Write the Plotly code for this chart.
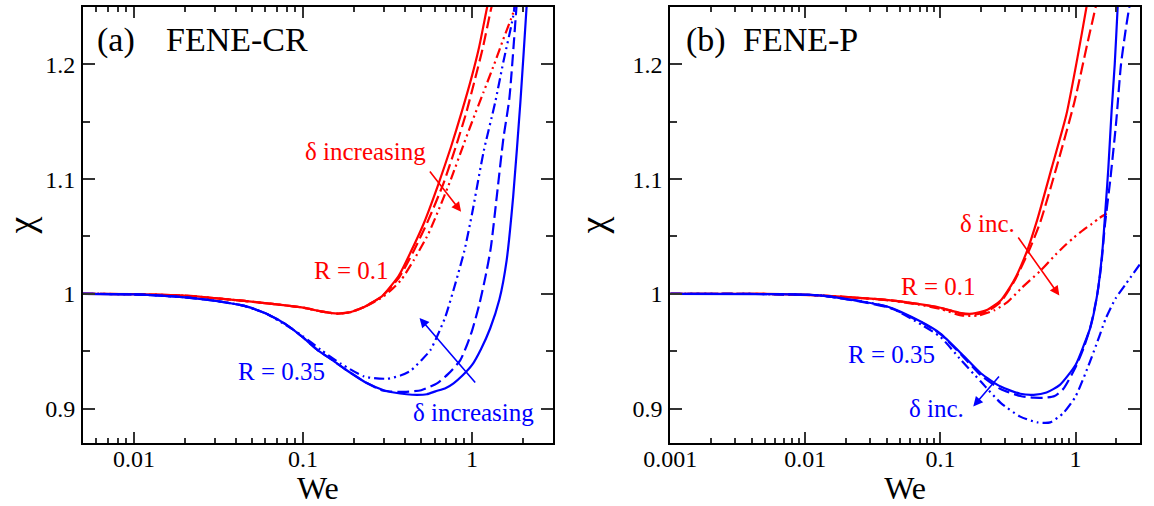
import math
import plotly.graph_objects as go

# ---------------- data ----------------
# Panel (a) FENE-CR, R = 0.1 (red)
a_r1_we  = [0.005, 0.01, 0.02, 0.045, 0.07, 0.1, 0.13, 0.16, 0.19, 0.23, 0.26, 0.294, 0.369, 0.432, 0.52, 0.63, 0.75, 0.87, 0.99, 1.1, 1.22, 1.35]
a_r1_chi = [1.0, 0.9997, 0.9984, 0.9938, 0.9908, 0.9880, 0.9845, 0.9828, 0.9840, 0.9885, 0.993, 0.998, 1.016, 1.036, 1.062, 1.095, 1.128, 1.159, 1.188, 1.215, 1.248, 1.28]
a_r2_we  = [0.005, 0.01, 0.02, 0.045, 0.07, 0.1, 0.13, 0.16, 0.19, 0.23, 0.26, 0.294, 0.369, 0.45, 0.55, 0.68, 0.8, 0.92, 1.04, 1.16, 1.28, 1.4]
a_r2_chi = [1.0, 0.9997, 0.9984, 0.9938, 0.9908, 0.9880, 0.9845, 0.9828, 0.9840, 0.9885, 0.993, 0.998, 1.014, 1.037, 1.064, 1.097, 1.128, 1.157, 1.187, 1.215, 1.245, 1.27]
a_r3_we  = [0.005, 0.01, 0.02, 0.045, 0.07, 0.1, 0.13, 0.16, 0.19, 0.23, 0.26, 0.294, 0.33, 0.38, 0.45, 0.55, 0.65, 0.75, 0.89, 1.0, 1.17, 1.35, 1.53, 1.75, 1.85]
a_r3_chi = [1.0, 0.9997, 0.9984, 0.9938, 0.9908, 0.9880, 0.9845, 0.9828, 0.9840, 0.9885, 0.9925, 0.997, 1.003, 1.012, 1.029, 1.052, 1.077, 1.100, 1.130, 1.150, 1.176, 1.200, 1.222, 1.245, 1.26]
# Panel (a) FENE-CR, R = 0.35 (blue)
a_b1_we  = [0.005, 0.01, 0.02, 0.03, 0.045, 0.06, 0.08, 0.1, 0.122, 0.15, 0.183, 0.24, 0.3, 0.345, 0.41, 0.473, 0.54, 0.607, 0.7, 0.777, 0.88, 1.0, 1.13, 1.28, 1.45, 1.6, 1.75, 1.93, 2.1, 2.2]
a_b1_chi = [1.0, 0.9995, 0.997, 0.994, 0.9895, 0.983, 0.973, 0.962, 0.951, 0.942, 0.933, 0.922, 0.916, 0.914, 0.9125, 0.912, 0.9125, 0.915, 0.918, 0.922, 0.929, 0.938, 0.952, 0.970, 0.995, 1.029, 1.085, 1.167, 1.25, 1.3]
a_b2_we  = [0.005, 0.01, 0.02, 0.03, 0.045, 0.06, 0.08, 0.1, 0.122, 0.15, 0.183, 0.24, 0.3, 0.395, 0.5, 0.62, 0.72, 0.85, 0.93, 1.0, 1.1, 1.2, 1.29, 1.4, 1.53, 1.66, 1.83, 1.9]
a_b2_chi = [1.0, 0.9995, 0.997, 0.994, 0.9895, 0.983, 0.973, 0.962, 0.951, 0.942, 0.933, 0.922, 0.9155, 0.9145, 0.916, 0.922, 0.930, 0.942, 0.955, 0.968, 0.990, 1.015, 1.040, 1.085, 1.135, 1.170, 1.25, 1.28]
a_b3_we  = [0.005, 0.01, 0.02, 0.03, 0.045, 0.06, 0.081, 0.1, 0.128, 0.168, 0.23, 0.315, 0.38, 0.433, 0.5, 0.567, 0.63, 0.695, 0.8, 0.9, 1.0, 1.17, 1.37, 1.53, 1.75, 1.85]
a_b3_chi = [1.0, 0.9995, 0.997, 0.994, 0.9895, 0.983, 0.972, 0.963, 0.951, 0.939, 0.928, 0.926, 0.929, 0.933, 0.942, 0.951, 0.965, 0.980, 1.010, 1.0375, 1.070, 1.124, 1.167, 1.202, 1.242, 1.27]

# Panel (b) FENE-P, R = 0.1 (red)
b_r1_we  = [0.001, 0.005, 0.0132, 0.0414, 0.07, 0.1, 0.1426, 0.173, 0.223, 0.279, 0.35, 0.438, 0.519, 0.667, 0.855, 1.03, 1.205, 1.3]
b_r1_chi = [1.0, 0.9999, 0.9985, 0.9945, 0.991, 0.9879, 0.9832, 0.9827, 0.9862, 0.9942, 1.0115, 1.0375, 1.064, 1.110, 1.156, 1.205, 1.25, 1.275]
b_r2_we  = [0.001, 0.005, 0.0132, 0.0414, 0.07, 0.1, 0.1426, 0.18, 0.223, 0.279, 0.35, 0.45, 0.55, 0.722, 0.98, 1.26, 1.41, 1.5]
b_r2_chi = [1.0, 0.9999, 0.9985, 0.9945, 0.991, 0.9877, 0.9828, 0.982, 0.985, 0.993, 1.0105, 1.037, 1.063, 1.110, 1.167, 1.225, 1.25, 1.265]
b_r3_we  = [0.001, 0.005, 0.0132, 0.0414, 0.07, 0.1, 0.1426, 0.189, 0.25, 0.313, 0.392, 0.548, 0.709, 0.85, 0.969, 1.15, 1.32, 1.5, 1.7]
b_r3_chi = [1.0, 0.9999, 0.9985, 0.9943, 0.9905, 0.9868, 0.9812, 0.981, 0.9856, 0.9927, 1.0043, 1.020, 1.034, 1.043, 1.049, 1.056, 1.061, 1.066, 1.070]
# Panel (b) FENE-P, R = 0.35 (blue)
b_b1_we  = [0.001, 0.005, 0.0132, 0.0414, 0.0726, 0.1, 0.1426, 0.199, 0.279, 0.39, 0.49, 0.61, 0.766, 1.0, 1.15, 1.29, 1.45, 1.58, 1.68, 1.75, 1.85, 1.95, 2.05, 2.15]
b_b1_chi = [1.0, 0.9998, 0.9985, 0.9885, 0.9754, 0.9654, 0.948, 0.9308, 0.9192, 0.9129, 0.912, 0.914, 0.9207, 0.938, 0.955, 0.971, 1.0, 1.0375, 1.08, 1.11, 1.16, 1.20, 1.25, 1.30]
b_b2_we  = [0.001, 0.005, 0.0132, 0.0414, 0.0726, 0.1, 0.1426, 0.199, 0.279, 0.39, 0.49, 0.6, 0.7, 0.81, 1.0, 1.15, 1.3, 1.45, 1.55, 1.65, 1.81, 2.0, 2.17, 2.35, 2.5, 2.6]
b_b2_chi = [1.0, 0.9998, 0.9985, 0.988, 0.975, 0.9648, 0.947, 0.929, 0.917, 0.911, 0.9095, 0.9095, 0.911, 0.917, 0.936, 0.953, 0.973, 1.0, 1.025, 1.06, 1.10, 1.15, 1.20, 1.23, 1.25, 1.26]
b_b3_we  = [0.001, 0.005, 0.0132, 0.0414, 0.0726, 0.1, 0.1426, 0.199, 0.279, 0.39, 0.52, 0.65, 0.81, 1.0, 1.29, 1.5, 1.68, 1.98, 2.36, 3.0]
b_b3_chi = [1.0, 0.9998, 0.9985, 0.9885, 0.973, 0.9625, 0.942, 0.9235, 0.905, 0.893, 0.888, 0.888, 0.896, 0.9105, 0.942, 0.963, 0.979, 0.996, 1.0087, 1.026]

# tick labels
a_xticks = [0.01, 0.1, 1]
b_xticks = [0.001, 0.01, 0.1, 1]
y_ticks = [0.9, 1.0, 1.1, 1.2]
y_ticktext = ["0.9", "1", "1.1", "1.2"]

# ---------------- styling ----------------
RED = "#ff0000"
BLUE = "#0000ff"
FONT = "Liberation Serif, Times New Roman, Times, DejaVu Serif, serif"
DASH = "12px,5px"
DDOT = "10px,4px,2px,4px,2px,4px"
LW = 2.2

fig = go.Figure()

def add(we, chi, color, dash, xa, ya):
    fig.add_trace(go.Scatter(x=we, y=chi, mode="lines", xaxis=xa, yaxis=ya,
                             line=dict(color=color, width=LW, dash=dash, shape="spline", smoothing=0.6),
                             showlegend=False, hoverinfo="skip"))

add(a_r1_we, a_r1_chi, RED, "solid", "x", "y")
add(a_r2_we, a_r2_chi, RED, DASH, "x", "y")
add(a_r3_we, a_r3_chi, RED, DDOT, "x", "y")
add(a_b1_we, a_b1_chi, BLUE, "solid", "x", "y")
add(a_b2_we, a_b2_chi, BLUE, DASH, "x", "y")
add(a_b3_we, a_b3_chi, BLUE, DDOT, "x", "y")
add(b_r1_we, b_r1_chi, RED, "solid", "x2", "y2")
add(b_r2_we, b_r2_chi, RED, DASH, "x2", "y2")
add(b_r3_we, b_r3_chi, RED, DDOT, "x2", "y2")
add(b_b1_we, b_b1_chi, BLUE, "solid", "x2", "y2")
add(b_b2_we, b_b2_chi, BLUE, DASH, "x2", "y2")
add(b_b3_we, b_b3_chi, BLUE, DDOT, "x2", "y2")

def minor_log(lo, hi):
    vals = []
    for e in range(lo, hi + 1):
        for k in range(2, 10):
            vals.append(k * 10 ** e)
    return vals

def xaxis(domain, rng, ticks, minor_vals):
    return dict(type="log", domain=domain, range=rng,
                tickmode="array", tickvals=ticks, ticktext=[("%g" % t) for t in ticks],
                ticks="inside", ticklen=11, tickwidth=1.5, tickcolor="#333",
                mirror="allticks", showline=True, linewidth=2, linecolor="black",
                showgrid=False, zeroline=False, ticklabelstandoff=-7,
                minor=dict(tickmode="array", tickvals=minor_vals, ticks="inside", ticklen=5,
                           tickwidth=1.5, tickcolor="#333", showgrid=False),
                tickfont=dict(family=FONT, size=24, color="black"),
                title=dict(text="We", font=dict(family=FONT, size=32, color="black"), standoff=0))

def yaxis(anchor):
    return dict(anchor=anchor, domain=[0, 1], range=[0.87, 1.25],
                tickmode="array", tickvals=y_ticks, ticktext=y_ticktext,
                ticks="inside", ticklen=12, tickwidth=1.5, tickcolor="#333",
                mirror="allticks", showline=True, linewidth=2, linecolor="black",
                showgrid=False, zeroline=False, ticklabelstandoff=1,
                minor=dict(tickmode="array", tickvals=[0.95, 1.05, 1.15], ticks="inside", ticklen=7,
                           tickwidth=1.5, tickcolor="#333", showgrid=False),
                tickfont=dict(family=FONT, size=24, color="black"),
                title=dict(text="χ", font=dict(family=FONT, size=38, color="black"), standoff=14))

a_minor = [v for v in minor_log(-3, 0) if 0.005 < v < 3]
b_minor = [v for v in minor_log(-3, 0) if 0.001 < v < 3]

fig.update_layout(
    width=1154, height=506,
    margin=dict(l=78, r=14, t=5, b=63),
    paper_bgcolor="white", plot_bgcolor="white",
    font=dict(family=FONT),
    xaxis=xaxis([0, 0.44444], [math.log10(0.005), math.log10(3)], a_xticks, a_minor),
    xaxis2=xaxis([0.55556, 1], [math.log10(0.001), math.log10(3)], b_xticks, b_minor),
    yaxis=yaxis("x"),
    yaxis2=yaxis("x2"),
)
fig.layout.xaxis2.anchor = "y2"

def txt(text, x, y, color, size, xr, yr, xanchor="center"):
    return dict(text=text, x=x, y=y, xref=xr, yref=yr, showarrow=False, xanchor=xanchor,
                yanchor="middle", font=dict(family=FONT, size=size, color=color))

def arrow(x0, y0, x1, y1, color, xr, yr):
    return dict(text="", x=x1, y=y1, ax=x0, ay=y0, xref=xr, yref=yr, axref=xr, ayref=yr,
                showarrow=True, arrowhead=2, arrowsize=1.2, arrowwidth=1.6, arrowcolor=color,
                standoff=0, startstandoff=0)

L = math.log10
ann = [
    txt("(a)", -2.228, 1.2215, "black", 34, "x", "y", "left"),
    txt("FENE-CR", -1.822, 1.2215, "black", 34, "x", "y", "left"),
    txt("δ increasing", -0.633, 1.124, RED, 25, "x", "y"),
    txt("R = 0.1", -0.715, 1.020, RED, 25, "x", "y"),
    txt("R = 0.35", -1.127, 0.932, BLUE, 25, "x", "y"),
    txt("δ increasing", 0.008, 0.8964, BLUE, 25, "x", "y"),
    arrow(L(0.554), 1.108, L(0.861), 1.0715, RED, "x", "y"),
    arrow(L(1.062), 0.9215, L(0.489), 0.979, BLUE, "x", "y"),
    txt("(b)", -2.897, 1.2215, "black", 34, "x2", "y2", "left"),
    txt("FENE-P", -2.477, 1.2215, "black", 34, "x2", "y2", "left"),
    txt("δ inc.", -0.652, 1.0617, RED, 25, "x2", "y2"),
    txt("R = 0.1", -1.013, 1.0063, RED, 25, "x2", "y2"),
    txt("R = 0.35", -1.359, 0.9475, BLUE, 25, "x2", "y2"),
    txt("δ inc.", -1.027, 0.900, BLUE, 25, "x2", "y2"),
    arrow(-0.432, 1.0504, -0.120, 0.9985, RED, "x2", "y2"),
    arrow(-0.557, 0.9293, -0.757, 0.9019, BLUE, "x2", "y2"),
]
fig.update_layout(annotations=ann)

fig.write_html("out.html", config={"displayModeBar": False},
               post_script="document.body.style.margin='0';document.body.style.overflow='hidden';")
